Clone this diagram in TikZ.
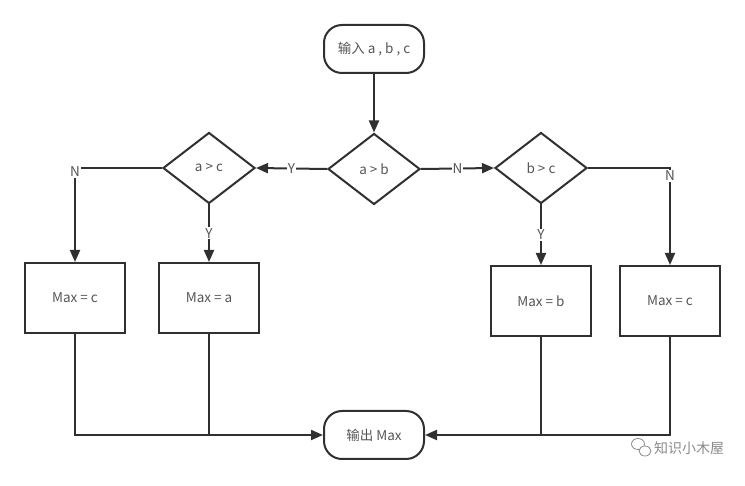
\documentclass[tikz,border=0pt]{standalone}
\usepackage{fontspec}
\newfontfamily\cjk{Noto Sans CJK SC}
\usetikzlibrary{shapes.geometric,arrows.meta}
\definecolor{linec}{HTML}{303030}
\definecolor{txtc}{HTML}{555555}
\definecolor{wmark}{HTML}{8A8A8A}
\begin{document}
\begin{tikzpicture}[x=1pt,y=-1pt,
  every node/.style={font=\cjk\fontsize{13.5}{15}\selectfont, text=txtc},
  line/.style={draw=linec, line width=2pt},
  arr/.style={line, -{Triangle[length=12pt,width=10pt]}},
  term/.style={draw=linec, line width=2pt, rounded corners=18pt, minimum width=100pt, minimum height=48pt},
  dec/.style={diamond, draw=linec, line width=2pt, minimum width=92pt, minimum height=71pt, inner sep=0pt},
  proc/.style={draw=linec, line width=2pt, minimum width=100pt, minimum height=70pt},
  lab/.style={fill=white, inner sep=1pt}]
\useasboundingbox (0,0) rectangle (745,486);

\node[term] (start) at (374,49) {输入 a , b , c};
\node[dec] (d1) at (374,169) {a > b};
\node[dec] (d2) at (209,168) {a > c};
\node[dec] (d3) at (541,168) {b > c};
\node[proc] (p1) at (75,298) {Max = c};
\node[proc] (p2) at (209,298) {Max = a};
\node[proc] (p3) at (541,301) {Max = b};
\node[proc] (p4) at (670,301) {Max = c};
\node[term] (end) at (374,435) {输出 Max};

\draw[arr] (start) -- (d1);
\draw[arr] (d1.west) -- node[lab] {Y} (d2.east);
\draw[arr] (d1.east) -- node[lab] {N} (d3.west);
\draw[arr] (d2.west) -| node[lab, pos=0.5, yshift=-4pt] {N} (p1.north);
\draw[arr] (d2.south) -- node[lab] {Y} (p2.north);
\draw[arr] (d3.south) -- node[lab] {Y} (p3.north);
\draw[arr] (d3.east) -| node[lab, pos=0.5, yshift=-8pt] {N} (p4.north);

\draw[arr] (p1.south) |- (end.west);
\draw[line] (p2.south) -- (p2.south |- end.west);
\draw[arr] (p4.south) |- (end.east);
\draw[line] (p3.south) -- (p3.south |- end.east);

% watermark
\draw[wmark, line width=0.8pt, fill=white] (638,444) ellipse (6.5pt and 5.5pt);
\draw[wmark, line width=0.8pt, fill=white] (645,451) ellipse (6pt and 5pt);
\node[text=wmark, font=\cjk\fontsize{14}{16}\selectfont, inner sep=0pt] (wm) at (689,448) {知识小木屋};
\end{tikzpicture}
\end{document}
